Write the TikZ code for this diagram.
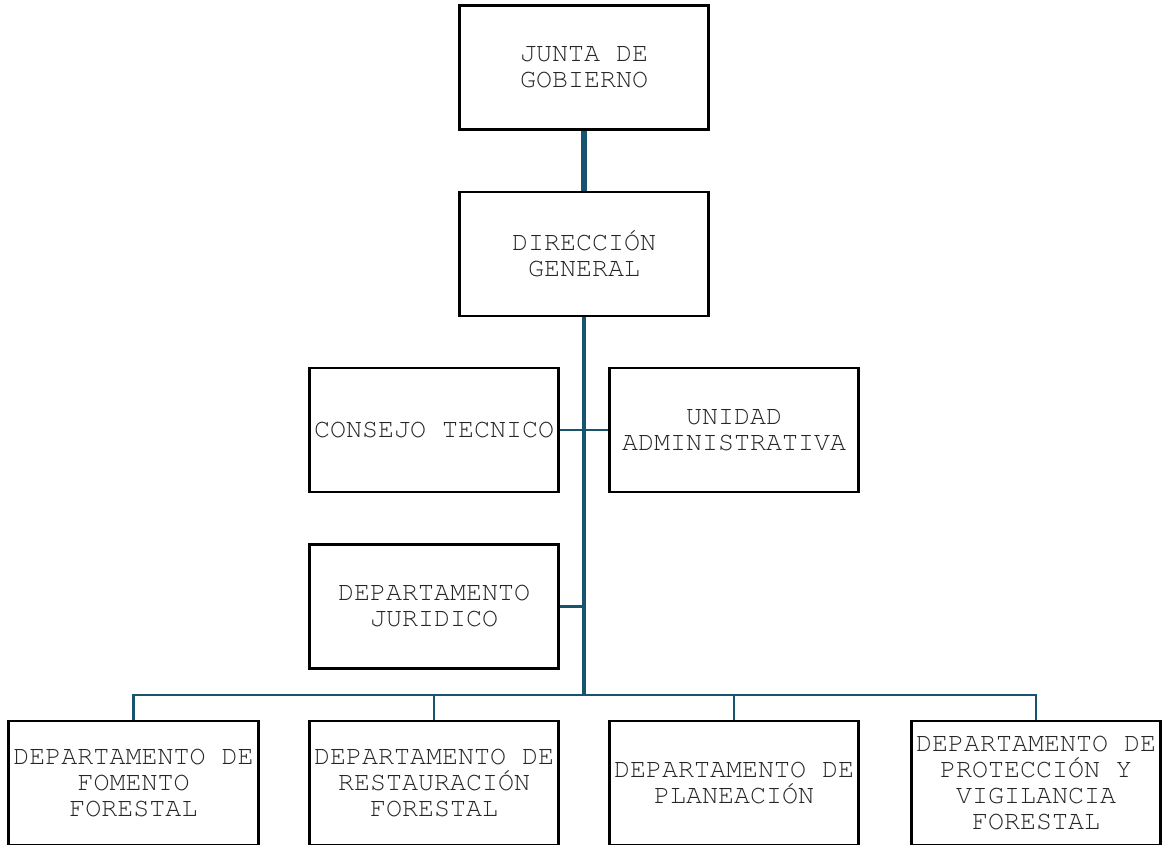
\documentclass[tikz,border=0pt]{standalone}
\usepackage{fontspec}
\setmonofont{texgyrecursor-regular.otf}
\usetikzlibrary{positioning}
\definecolor{orgteal}{RGB}{22,84,112}
\definecolor{orgtext}{RGB}{38,38,38}
\tikzset{
  orgbox/.style={draw=black, line width=2.2pt, fill=white, minimum width=187pt,
    minimum height=93pt, inner sep=1pt, align=center, text=orgtext,
    font=\ttfamily\fontsize{20}{19.5}\selectfont},
  link/.style={draw=orgteal, line width=1.6pt},
  mainlink/.style={draw=orgteal, line width=2.3pt},
}
\begin{document}
\begin{tikzpicture}[x=0.75pt, y=-0.75pt]
\useasboundingbox (0,0) rectangle (1163,844);
% Top levels
\node[orgbox] (junta) at (584,67.5) {JUNTA DE\\GOBIERNO};
\node[orgbox] (direccion) at (584,254) {DIRECCIÓN\\GENERAL};
% Staff units
\node[orgbox] (consejo) at (434,430) {CONSEJO TECNICO};
\node[orgbox] (unidad) at (734,430) {UNIDAD\\ADMINISTRATIVA};
\node[orgbox] (juridico) at (434,606.5) {DEPARTAMENTO\\JURIDICO};
% Departments
\node[orgbox] (fomento) at (133.5,783) {DEPARTAMENTO DE\\FOMENTO\\FORESTAL};
\node[orgbox] (restauracion) at (434,783) {DEPARTAMENTO DE\\RESTAURACIÓN\\FORESTAL};
\node[orgbox] (planeacion) at (734,783) {DEPARTAMENTO DE\\PLANEACIÓN};
\node[orgbox] (proteccion) at (1036,783) {DEPARTAMENTO DE\\PROTECCIÓN Y\\VIGILANCIA\\FORESTAL};
% Connectors
\draw[orgteal, line width=4.5pt] (junta) -- (direccion);
\coordinate (bus) at (584,695);
\draw[mainlink] (direccion.south) -- (bus);
\draw[link] (consejo.east) -- (unidad.west);
\draw[link] (juridico.east) -- (juridico.east -| bus);
\foreach \dep in {fomento,restauracion,planeacion,proteccion}
  \draw[link] (bus) -| (\dep.north);
\end{tikzpicture}
\end{document}
